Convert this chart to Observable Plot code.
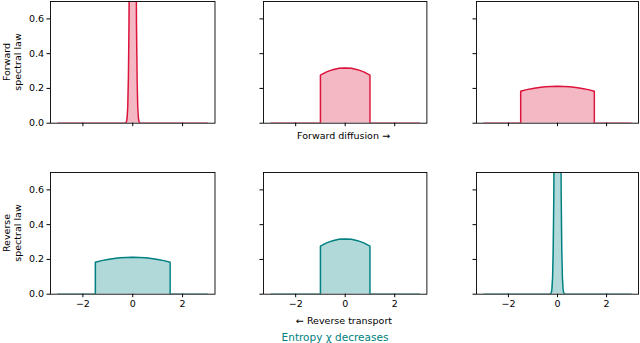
<!DOCTYPE html>
<html>
<head>
<meta charset="utf-8">
<script src="https://cdn.jsdelivr.net/npm/d3@7"></script>
<script src="https://cdn.jsdelivr.net/npm/@observablehq/plot@0.6"></script>
<style>
  html, body { margin: 0; padding: 0; background: #fff; }
  #chart { position: relative; width: 640px; height: 343px; overflow: hidden; font-family: "DejaVu Sans", sans-serif; }
  .lbl { position: absolute; white-space: nowrap; color: #000; font-size: 9.5px; transform: translate(-50%, -50%); }
  .ylab { position: absolute; width: 100px; text-align: center; font-size: 9.5px; line-height: 10.5px; transform: translate(-50%, -50%) rotate(-90deg); }
</style>
</head>
<body>
<div id="chart"></div>
<script>
// Narrow peak (concentrated spectrum)
const peakX = [-3, -0.325, -0.3, -0.275, -0.25, -0.225, -0.2, -0.175, -0.15, -0.125, -0.1, -0.075, -0.05, -0.025, 0,
               0.025, 0.05, 0.075, 0.1, 0.125, 0.15, 0.175, 0.2, 0.225, 0.25, 0.275, 0.3, 0.325, 3];
const peakY = [0, 0, 0.0006, 0.0025, 0.0097, 0.0325, 0.096, 0.25, 0.574, 1.16, 2.05, 3.21, 4.42, 5.35, 5.70,
               5.35, 4.42, 3.21, 2.05, 1.16, 0.574, 0.25, 0.096, 0.0325, 0.0097, 0.0025, 0.0006, 0, 0];
// Medium support [-1, 1]
const midX = [-3, -1, -1, -0.75, -0.5, -0.25, 0, 0.25, 0.5, 0.75, 1, 1, 3];
const midY = [0, 0, 0.276, 0.295, 0.308, 0.316, 0.318, 0.316, 0.308, 0.295, 0.276, 0, 0];
// Wide support [-1.5, 1.5]
const wideX = [-3, -1.5, -1.5, -1.25, -1, -0.75, -0.5, -0.25, 0, 0.25, 0.5, 0.75, 1, 1.25, 1.5, 1.5, 3];
const wideY = [0, 0, 0.184, 0.193, 0.200, 0.2055, 0.209, 0.2115, 0.212, 0.2115, 0.209, 0.2055, 0.200, 0.193, 0.184, 0, 0];

const xTicks = [-2, 0, 2];
const yTicks = [0, 0.2, 0.4, 0.6];
const rowColors = ["#dc143c", "#008080"];
const rowLabels = [["Forward", "spectral law"], ["Reverse", "spectral law"]];
const rowPanels = [[[peakX, peakY], [midX, midY], [wideX, wideY]],
                   [[wideX, wideY], [midX, midY], [peakX, peakY]]];
const texts = ["Forward diffusion \u2192", "\u2190 Reverse transport", "Entropy \u03c7 decreases"];

const colLeft = [49.5, 262.6, 476];
const colRight = [214, 426, 638];
const rowTop = [1, 172.4];
const frameH = 121.7;

const chart = document.getElementById("chart");
const fmtX = d => (d < 0 ? "\u2212" + (-d) : String(d));
const fmtY = d3.format(".1f");

rowPanels.forEach((row, r) => {
  row.forEach(([xs, ys], c) => {
    const data = xs.map((x, i) => ({x, y: ys[i]}));
    const showY = c === 0, showX = r === 1;
    const mL = showY ? 50 : 6, mR = 3, mT = 3, mB = 22;
    const fw = colRight[c] - colLeft[c];
    const color = rowColors[r];
    const svg = Plot.plot({
      width: mL + fw + mR,
      height: mT + frameH + mB,
      marginLeft: mL, marginRight: mR, marginTop: mT, marginBottom: mB,
      x: {domain: [-3.3, 3.3]},
      y: {domain: [0, 0.7]},
      style: {fontFamily: "DejaVu Sans", fontSize: "9.5px", color: "#000", background: "transparent", overflow: "visible"},
      marks: [
        Plot.areaY(data, {x: "x", y: "y", fill: color, fillOpacity: 0.3, clip: true}),
        Plot.lineY(data, {x: "x", y: "y", stroke: color, strokeWidth: 1.5, clip: true}),
        Plot.axisX({ticks: xTicks, tickSize: 3.5, tickPadding: 3, tickFormat: showX ? fmtX : () => "", label: null}),
        Plot.axisY({ticks: yTicks, tickSize: 3.5, tickPadding: 3, tickFormat: showY ? fmtY : () => "", label: null}),
        Plot.frame({stroke: "#000", strokeWidth: 0.9})
      ]
    });
    svg.style.position = "absolute";
    svg.style.left = (colLeft[c] - mL) + "px";
    svg.style.top = (rowTop[r] - mT) + "px";
    chart.appendChild(svg);
  });
  const yl = document.createElement("div");
  yl.className = "ylab";
  yl.innerHTML = rowLabels[r][0] + "<br>" + rowLabels[r][1];
  yl.style.left = "11.5px";
  yl.style.top = (rowTop[r] + frameH / 2) + "px";
  chart.appendChild(yl);
});

function addText(t, x, y, opts = {}) {
  const d = document.createElement("div");
  d.className = "lbl";
  d.textContent = t;
  d.style.left = x + "px";
  d.style.top = y + "px";
  if (opts.color) d.style.color = opts.color;
  if (opts.size) d.style.fontSize = opts.size;
  chart.appendChild(d);
}
addText(texts[0], 343.5, 135);
addText(texts[1], 344, 320);
addText(texts[2], 335, 336.5, {color: "#008080", size: "10.5px"});
</script>
</body>
</html>
